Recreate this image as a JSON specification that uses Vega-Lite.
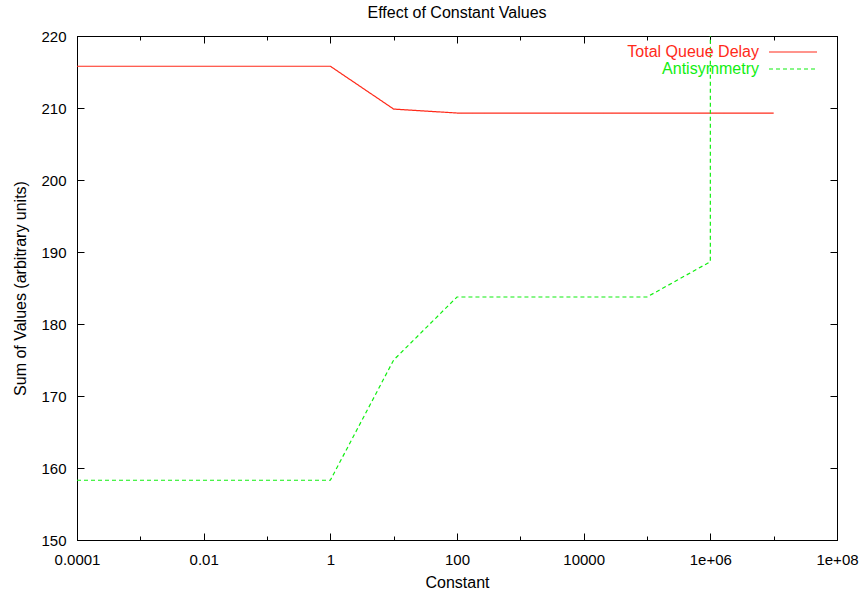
{
  "$schema": "https://vega.github.io/schema/vega-lite/v6.json",
  "width": 760,
  "height": 504,
  "autosize": "none",
  "padding": {"left": 77, "top": 36, "right": 27, "bottom": 52},
  "background": "#ffffff",
  "title": {"text": "Effect of Constant Values", "fontSize": 16, "fontWeight": "normal", "font": "Liberation Sans", "color": "#000000", "offset": 8.5},
  "config": {
    "view": {"stroke": "#000000", "strokeWidth": 1},
    "font": "Liberation Sans",
    "axis": {"grid": false, "domainColor": "#000000", "tickColor": "#000000", "labelColor": "#000000", "titleColor": "#000000", "labelFont": "Liberation Sans", "titleFont": "Liberation Sans", "titleFontWeight": "normal", "labelFlush": false, "labelOverlap": false}
  },
  "data": {
    "values": [
      {"constant": 0.0001, "series": "Total Queue Delay", "value": 215.8},
      {"constant": 0.001, "series": "Total Queue Delay", "value": 215.8},
      {"constant": 0.01, "series": "Total Queue Delay", "value": 215.8},
      {"constant": 0.1, "series": "Total Queue Delay", "value": 215.8},
      {"constant": 1, "series": "Total Queue Delay", "value": 215.8},
      {"constant": 10, "series": "Total Queue Delay", "value": 209.85},
      {"constant": 100, "series": "Total Queue Delay", "value": 209.3},
      {"constant": 1000, "series": "Total Queue Delay", "value": 209.3},
      {"constant": 10000, "series": "Total Queue Delay", "value": 209.3},
      {"constant": 100000, "series": "Total Queue Delay", "value": 209.3},
      {"constant": 1000000, "series": "Total Queue Delay", "value": 209.3},
      {"constant": 10000000, "series": "Total Queue Delay", "value": 209.3},
      {"constant": 0.0001, "series": "Antisymmetry", "value": 158.3},
      {"constant": 0.001, "series": "Antisymmetry", "value": 158.3},
      {"constant": 0.01, "series": "Antisymmetry", "value": 158.3},
      {"constant": 0.1, "series": "Antisymmetry", "value": 158.3},
      {"constant": 1, "series": "Antisymmetry", "value": 158.3},
      {"constant": 10, "series": "Antisymmetry", "value": 175.0},
      {"constant": 100, "series": "Antisymmetry", "value": 183.75},
      {"constant": 1000, "series": "Antisymmetry", "value": 183.75},
      {"constant": 10000, "series": "Antisymmetry", "value": 183.75},
      {"constant": 100000, "series": "Antisymmetry", "value": 183.75},
      {"constant": 1000000, "series": "Antisymmetry", "value": 188.65},
      {"constant": 10000000, "series": "Antisymmetry", "value": 100000}
    ]
  },
  "layer": [
    {
      "mark": {"type": "line", "clip": true, "strokeWidth": 1.2},
      "encoding": {
        "x": {
          "field": "constant", "type": "quantitative",
          "scale": {"type": "log", "domain": [0.0001, 100000000], "nice": false},
          "axis": {
            "orient": "bottom",
            "values": [0.0001, 0.001, 0.01, 0.1, 1, 10, 100, 1000, 10000, 100000, 1000000, 10000000, 100000000],
            "labelExpr": "(round(log(datum.value)/LN10) % 2 != 0) ? '' : (datum.value >= 1000000 ? '1e+0' + round(log(datum.value)/LN10) : format(datum.value, ''))",
            "tickSize": {"condition": {"test": "round(log(datum.value)/LN10) % 2 != 0", "value": -4}, "value": -7},
            "labelPadding": 19,
            "labelFontSize": 15,
            "title": "Constant",
            "titleFontSize": 16,
            "titlePadding": 4
          }
        },
        "y": {
          "field": "value", "type": "quantitative",
          "scale": {"domain": [150, 220], "nice": false, "zero": false},
          "axis": {
            "orient": "left",
            "values": [150, 160, 170, 180, 190, 200, 210, 220],
            "tickSize": -7,
            "labelPadding": 18,
            "labelFontSize": 15,
            "title": "Sum of Values (arbitrary units)",
            "titleFontSize": 16,
            "titlePadding": 12
          }
        },
        "color": {
          "field": "series", "type": "nominal",
          "scale": {"domain": ["Total Queue Delay", "Antisymmetry"], "range": ["#ff2a1a", "#11ee11"]},
          "legend": {
            "title": null, "orient": "none", "legendX": 708, "legendY": 8,
            "padding": 0, "rowPadding": 1, "symbolType": "M-4,0H4", "symbolSize": 144, "symbolStrokeWidth": 1.2,
            "labelAlign": "right", "labelOffset": -42, "labelFontSize": 16, "labelFont": "Liberation Sans",
            "labelColor": {"expr": "datum.value == 'Antisymmetry' ? '#11ee11' : '#ff2a1a'"}
          }
        },
        "strokeDash": {
          "field": "series", "type": "nominal",
          "scale": {"domain": ["Total Queue Delay", "Antisymmetry"], "range": [[1, 0], [4, 3]]},
          "legend": {
            "title": null, "orient": "none", "legendX": 708, "legendY": 8,
            "padding": 0, "rowPadding": 1, "symbolType": "M-4,0H4", "symbolSize": 144, "symbolStrokeWidth": 1.2,
            "labelAlign": "right", "labelOffset": -42, "labelFontSize": 16, "labelFont": "Liberation Sans",
            "labelColor": {"expr": "datum.value == 'Antisymmetry' ? '#11ee11' : '#ff2a1a'"}
          }
        }
      }
    },
    {
      "mark": {"type": "line", "clip": true, "opacity": 0},
      "encoding": {
        "x": {
          "field": "constant", "type": "quantitative",
          "scale": {"type": "log", "domain": [0.0001, 100000000], "nice": false},
          "axis": {
            "orient": "top",
            "values": [0.0001, 0.001, 0.01, 0.1, 1, 10, 100, 1000, 10000, 100000, 1000000, 10000000, 100000000],
            "labels": false,
            "tickSize": {"condition": {"test": "round(log(datum.value)/LN10) % 2 != 0", "value": -4}, "value": -7},
            "title": null
          }
        },
        "y": {
          "field": "value", "type": "quantitative",
          "scale": {"domain": [150, 220], "nice": false, "zero": false},
          "axis": {
            "orient": "right",
            "values": [150, 160, 170, 180, 190, 200, 210, 220],
            "labels": false,
            "tickSize": -7,
            "title": null
          }
        },
        "detail": {"field": "series", "type": "nominal"}
      }
    }
  ],
  "resolve": {"axis": {"x": "independent", "y": "independent"}}
}
